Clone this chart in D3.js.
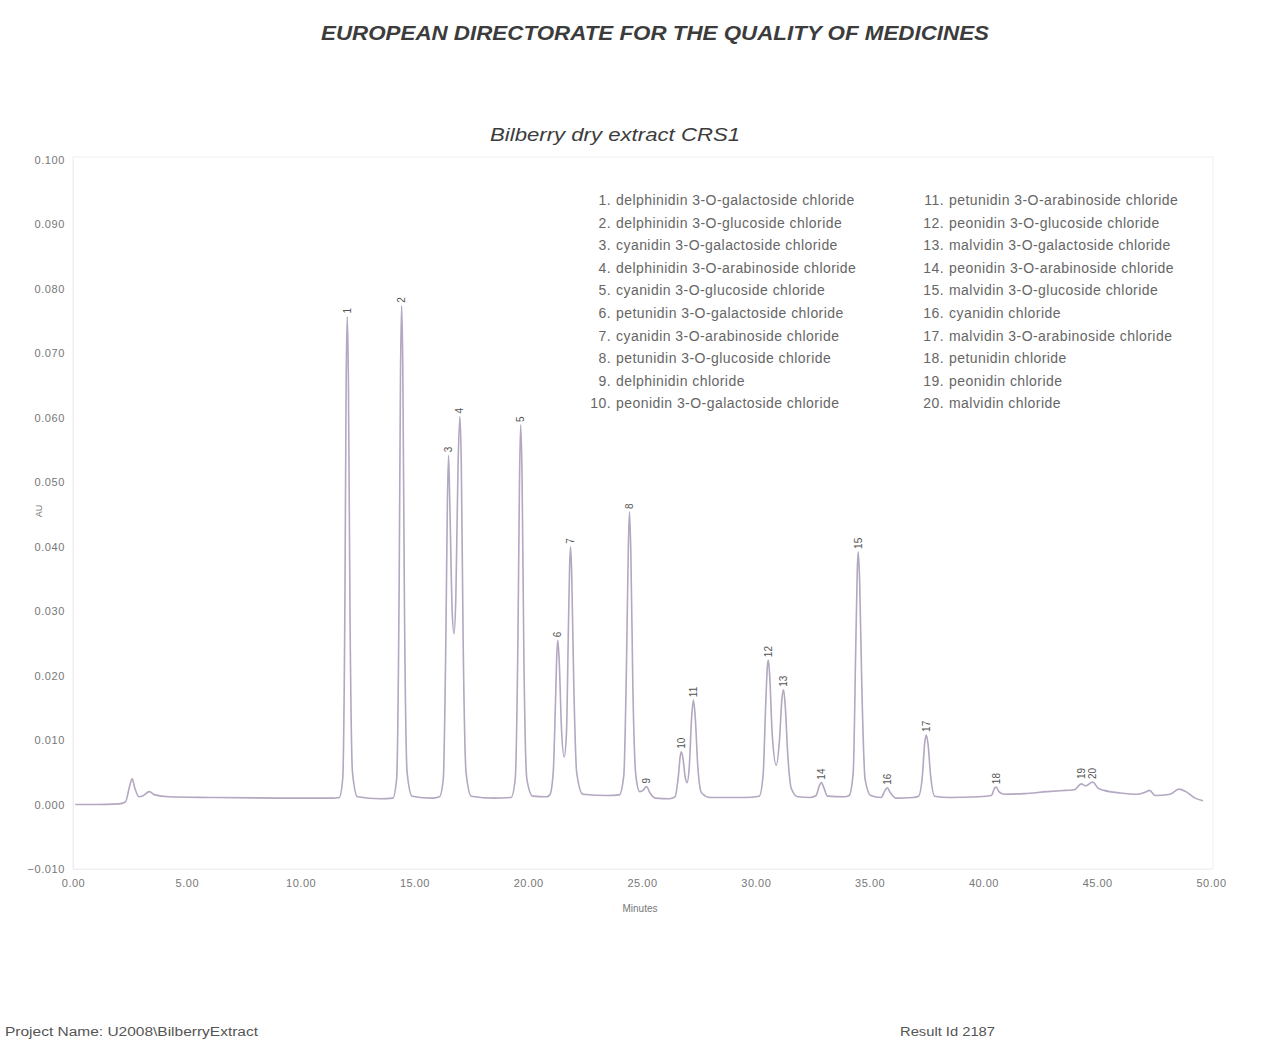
<!DOCTYPE html>
<html>
<head>
<meta charset="utf-8">
<script src="https://cdn.jsdelivr.net/npm/d3@7"></script>
<style>
  body { margin: 0; background: #fff; }
  svg { display: block; font-family: "Liberation Sans", Arial, sans-serif; }
</style>
</head>
<body>
<svg id="chart" width="1287" height="1047"></svg>
<script>
// DATA

var xTicks = [0, 5, 10, 15, 20, 25, 30, 35, 40, 45, 50];
var yTicks = [-0.010, 0.000, 0.010, 0.020, 0.030, 0.040, 0.050, 0.060, 0.070, 0.080, 0.090, 0.100];

// chromatogram trace: [minutes, AU]
var trace = [
  [0.1, 0.0000], [1.0, 0.0000], [2.0, 0.0001], [2.3, 0.0004], [2.5, 0.0030], [2.6, 0.0040], [2.72, 0.0025],
  [2.9, 0.0012], [3.1, 0.0014], [3.35, 0.0020], [3.6, 0.0015], [4.2, 0.0012], [6.0, 0.0011], [9.0, 0.0010],
  [11.4, 0.0010], [11.7, 0.0011], [11.85, 0.0040], [11.95, 0.0330], [12.0, 0.0650], [12.05, 0.0757],
  [12.1, 0.0660], [12.17, 0.0300], [12.28, 0.0050], [12.5, 0.0012], [13.5, 0.0009],
  [14.05, 0.0010], [14.22, 0.0040], [14.33, 0.0340], [14.39, 0.0670], [14.44, 0.0774], [14.49, 0.0680],
  [14.56, 0.0320], [14.68, 0.0050], [14.9, 0.0013], [15.8, 0.0010],
  [16.1, 0.0012], [16.27, 0.0040], [16.38, 0.0250], [16.45, 0.0470], [16.5, 0.0542], [16.56, 0.0460],
  [16.66, 0.0300], [16.74, 0.0265], [16.82, 0.0320], [16.92, 0.0530], [17.0, 0.0602], [17.06, 0.0530],
  [17.14, 0.0260], [17.27, 0.0050], [17.5, 0.0013], [18.5, 0.0010],
  [19.25, 0.0011], [19.43, 0.0040], [19.55, 0.0260], [19.62, 0.0510], [19.67, 0.0589], [19.73, 0.0510],
  [19.81, 0.0230], [19.94, 0.0040], [20.2, 0.0013], [20.8, 0.0012],
  [20.95, 0.0015], [21.1, 0.0050], [21.2, 0.0160], [21.26, 0.0235], [21.3, 0.0255], [21.36, 0.0225],
  [21.46, 0.0120], [21.58, 0.0074], [21.68, 0.0110], [21.77, 0.0280], [21.82, 0.0370], [21.86, 0.0400],
  [21.91, 0.0360], [22.0, 0.0190], [22.13, 0.0050], [22.4, 0.0016], [23.5, 0.0014],
  [24.0, 0.0015], [24.2, 0.0045], [24.32, 0.0220], [24.4, 0.0400], [24.45, 0.0454], [24.51, 0.0390],
  [24.6, 0.0180], [24.73, 0.0045], [24.9, 0.0020],
  [25.05, 0.0022], [25.2, 0.0028], [25.35, 0.0018], [25.6, 0.0010], [26.2, 0.0009],
  [26.45, 0.0012], [26.6, 0.0045], [26.68, 0.0075], [26.73, 0.0082], [26.8, 0.0072], [26.9, 0.0042],
  [26.98, 0.0034], [27.08, 0.0060], [27.18, 0.0135], [27.26, 0.0162], [27.34, 0.0135], [27.45, 0.0060],
  [27.62, 0.0018], [28.0, 0.0011], [29.5, 0.0011],
  [30.15, 0.0013], [30.32, 0.0045], [30.44, 0.0160], [30.51, 0.0215], [30.55, 0.0224], [30.61, 0.0200],
  [30.72, 0.0110], [30.9, 0.0061], [31.04, 0.0100], [31.15, 0.0165], [31.22, 0.0178], [31.29, 0.0155],
  [31.4, 0.0080], [31.56, 0.0025], [31.85, 0.0012], [32.4, 0.0011],
  [32.65, 0.0014], [32.8, 0.0030], [32.88, 0.0034], [32.98, 0.0027], [33.15, 0.0013], [33.9, 0.0012],
  [34.1, 0.0014], [34.28, 0.0050], [34.39, 0.0240], [34.46, 0.0365], [34.5, 0.0392], [34.56, 0.0350],
  [34.66, 0.0180], [34.8, 0.0040], [35.05, 0.0014],
  [35.5, 0.0011], [35.68, 0.0022], [35.78, 0.0026], [35.9, 0.0019], [36.15, 0.0010], [36.9, 0.0011],
  [37.15, 0.0013], [37.32, 0.0045], [37.42, 0.0095], [37.49, 0.0108], [37.57, 0.0093], [37.68, 0.0045],
  [37.86, 0.0013], [38.5, 0.0011], [39.8, 0.0012],
  [40.35, 0.0014], [40.5, 0.0026], [40.56, 0.0027], [40.68, 0.0020], [40.9, 0.0016], [41.8, 0.0017],
  [42.8, 0.0020], [43.6, 0.0022],
  [44.0, 0.0023], [44.3, 0.0032], [44.5, 0.0029], [44.8, 0.0035], [45.05, 0.0025], [45.3, 0.0022],
  [46.0, 0.0018], [46.8, 0.0016], [47.1, 0.0019], [47.3, 0.0022], [47.55, 0.0014], [48.2, 0.0016],
  [48.6, 0.0024], [48.9, 0.0020], [49.3, 0.0010], [49.65, 0.0006]
];

// peak labels: number, retention time, apex height
var peakNumbers = [1, 2, 3, 4, 5, 6, 7, 8, 9, 10, 11, 12, 13, 14, 15, 16, 17, 18, 19, 20];
var peakTimes   = [12.05, 14.44, 16.5, 17.0, 19.67, 21.3, 21.86, 24.45, 25.2, 26.73, 27.26, 30.55, 31.22, 32.88, 34.5, 35.78, 37.49, 40.56, 44.3, 44.8];
var peakHeights = [0.0757, 0.0774, 0.0542, 0.0602, 0.0589, 0.0255, 0.0400, 0.0454, 0.0028, 0.0082, 0.0162, 0.0224, 0.0178, 0.0034, 0.0392, 0.0026, 0.0108, 0.0027, 0.0035, 0.0035];

var peakNames = [
  "delphinidin 3-O-galactoside chloride",
  "delphinidin 3-O-glucoside chloride",
  "cyanidin 3-O-galactoside chloride",
  "delphinidin 3-O-arabinoside chloride",
  "cyanidin 3-O-glucoside chloride",
  "petunidin 3-O-galactoside chloride",
  "cyanidin 3-O-arabinoside chloride",
  "petunidin 3-O-glucoside chloride",
  "delphinidin chloride",
  "peonidin 3-O-galactoside chloride",
  "petunidin 3-O-arabinoside chloride",
  "peonidin 3-O-glucoside chloride",
  "malvidin 3-O-galactoside chloride",
  "peonidin 3-O-arabinoside chloride",
  "malvidin 3-O-glucoside chloride",
  "cyanidin chloride",
  "malvidin 3-O-arabinoside chloride",
  "petunidin chloride",
  "peonidin chloride",
  "malvidin chloride"
];

// CHART

var svg = d3.select("#chart");
var traceColor = "#b3a7c1";

var x = d3.scaleLinear().domain([0, 50]).range([73, 1211]);
var y = d3.scaleLinear().domain([-0.010, 0.100]).range([869, 160]);

// frame
svg.append("rect")
    .attr("x", 73).attr("y", 157)
    .attr("width", 1213 - 73).attr("height", 869 - 157)
    .attr("fill", "none")
    .attr("stroke", "#f0eef2");

// titles
svg.append("text")
    .attr("x", 655).attr("y", 40)
    .attr("text-anchor", "middle")
    .attr("font-size", 21)
    .attr("font-weight", "bold")
    .attr("font-style", "italic")
    .attr("fill", "#3c3c3c")
    .attr("textLength", 668)
    .attr("lengthAdjust", "spacingAndGlyphs")
    .text("EUROPEAN DIRECTORATE FOR THE QUALITY OF MEDICINES");

svg.append("text")
    .attr("x", 615).attr("y", 141)
    .attr("text-anchor", "middle")
    .attr("font-size", 19)
    .attr("font-style", "italic")
    .attr("fill", "#3c3c3c")
    .attr("textLength", 250)
    .attr("lengthAdjust", "spacingAndGlyphs")
    .text("Bilberry dry extract CRS1");

// axes
var yAxis = svg.append("g")
    .attr("transform", "translate(73,0)")
    .call(d3.axisLeft(y).tickValues(yTicks).tickFormat(d3.format(".3f")).tickSize(0).tickPadding(8));
yAxis.select(".domain").attr("stroke", "#f0eef2");
yAxis.selectAll("text").attr("font-size", 11).attr("letter-spacing", 0.6).attr("fill", "#777");

var xAxis = svg.append("g")
    .attr("transform", "translate(0,869)")
    .call(d3.axisBottom(x).tickValues(xTicks).tickFormat(d3.format(".2f")).tickSize(0).tickPadding(10));
xAxis.select(".domain").attr("stroke", "#f0eef2");
xAxis.selectAll("text").attr("font-size", 11).attr("letter-spacing", 0.5).attr("fill", "#777");

svg.append("text")
    .attr("transform", "translate(42,511) rotate(-90)")
    .attr("text-anchor", "middle")
    .attr("font-size", 9)
    .attr("fill", "#777")
    .text("AU");

svg.append("text")
    .attr("x", 640).attr("y", 912)
    .attr("text-anchor", "middle")
    .attr("font-size", 10)
    .attr("fill", "#777")
    .text("Minutes");

// trace
var line = d3.line()
    .x(function(d) { return x(d[0]); })
    .y(function(d) { return y(d[1]); })
    .curve(d3.curveMonotoneX);

svg.append("path")
    .datum(trace)
    .attr("d", line)
    .attr("fill", "none")
    .attr("stroke", traceColor)
    .attr("stroke-width", 1.6);

// peak labels
svg.append("g")
    .selectAll("text")
    .data(peakNumbers)
    .enter().append("text")
      .attr("transform", function(d, i) {
        return "translate(" + x(peakTimes[i]) + "," + (y(peakHeights[i]) - 3) + ") rotate(-90)";
      })
      .attr("dy", "0.35em")
      .attr("font-size", 10)
      .attr("fill", "#555")
      .text(function(d) { return d; });

// legend
var legend = svg.append("g")
    .attr("font-size", 14)
    .attr("letter-spacing", 0.45)
    .attr("fill", "#666");

legend.selectAll("g")
    .data(peakNames)
    .enter().append("g")
      .attr("transform", function(d, i) {
        var col = i < 10 ? 0 : 1;
        return "translate(" + (col ? 944 : 611) + "," + (205 + (i % 10) * 22.6) + ")";
      })
      .each(function(d, i) {
        var g = d3.select(this);
        g.append("text").attr("text-anchor", "end").text(peakNumbers[i] + ".");
        g.append("text").attr("x", 5).text(d);
      });

// footer
svg.append("text")
    .attr("x", 5).attr("y", 1036)
    .attr("font-size", 12)
    .attr("fill", "#555")
    .attr("textLength", 253)
    .attr("lengthAdjust", "spacingAndGlyphs")
    .text("Project Name: U2008\\BilberryExtract");

svg.append("text")
    .attr("x", 900).attr("y", 1036)
    .attr("font-size", 12)
    .attr("fill", "#555")
    .attr("textLength", 95)
    .attr("lengthAdjust", "spacingAndGlyphs")
    .text("Result Id 2187");
</script>
</body>
</html>
